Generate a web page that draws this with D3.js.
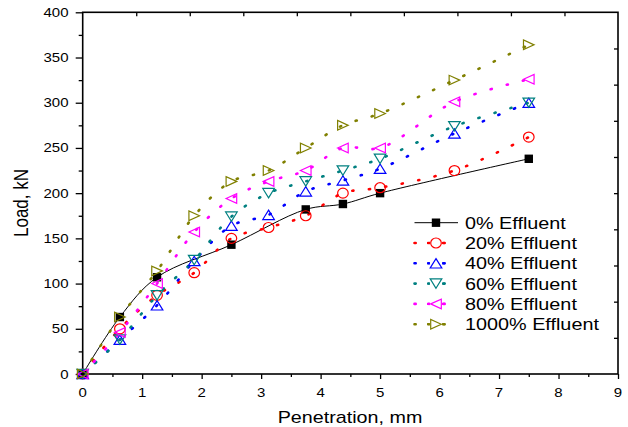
<!DOCTYPE html>
<html>
<head>
<meta charset="utf-8">
<script src="https://cdn.jsdelivr.net/npm/d3@7"></script>
<style>
  body { margin: 0; background: #fff; }
  text { font-family: Arial, "Liberation Sans", sans-serif; fill: #000; }
</style>
</head>
<body>
<div id="chart"></div>
<script>
// ---- data ----
var penetration = [0, 0.625, 1.25, 1.875, 2.5, 3.125, 3.75, 4.375, 5, 6.25, 7.5];
var penetration0 = [0, 0.625, 1.25, 2.5, 3.75, 4.375, 5, 7.5];

var load0 = [0, 63, 107, 143, 182, 188, 200, 238];
var load20 = [0, 50, 87, 112, 150, 162, 175, 200, 206, 225, 262];
var load40 = [0, 38, 76, 125, 164, 176, 202, 214, 227, 266, 300];
var load60 = [0, 38, 87, 126, 174, 200, 213, 225, 238, 274, 300];
var load80 = [0, 46, 100, 157, 194, 213, 225, 250, 250, 301, 326];
var load1000 = [0, 63, 114, 175, 213, 225, 250, 275, 288, 325, 364];

var seriesNames = ["0% Effluent", "20% Effluent", "40% Effluent", "60% Effluent", "80% Effluent", "1000% Effluent"];

var xTicks = [0, 1, 2, 3, 4, 5, 6, 7, 8, 9];
var xMinorTicks = [0.5, 1.5, 2.5, 3.5, 4.5, 5.5, 6.5, 7.5, 8.5];
var yTicks = [0, 50, 100, 150, 200, 250, 300, 350, 400];
var yMinorTicks = [25, 75, 125, 175, 225, 275, 325, 375];
var frameTicks = [1, 2, 3, 4, 5, 6, 7, 8, 9];

// ---- layout ----
var width = 628, height = 427;
var plotLeft = 82.7, plotRight = 618, plotTop = 12.3, plotBottom = 374;
var stretch = 1.2;   // the picture is a bit wider than tall

var series = [
    { name: seriesNames[0], xs: penetration0, ys: load0, color: "#000000", marker: "square", solid: true },
    { name: seriesNames[1], xs: penetration, ys: load20, color: "#ff0000", marker: "circle" },
    { name: seriesNames[2], xs: penetration, ys: load40, color: "#0000ff", marker: "up" },
    { name: seriesNames[3], xs: penetration, ys: load60, color: "#008080", marker: "down" },
    { name: seriesNames[4], xs: penetration, ys: load80, color: "#ff00ff", marker: "left" },
    { name: seriesNames[5], xs: penetration, ys: load1000, color: "#808000", marker: "right" }
];

var x = d3.scaleLinear().domain([0, 9]).range([plotLeft, plotRight]);
var y = d3.scaleLinear().domain([0, 400]).range([plotBottom, plotTop]);
var fx = d3.scaleLinear().domain([0, 10]).range([plotLeft, plotRight]);
var fy = d3.scaleLinear().domain([0, 10]).range([plotBottom, plotTop]);

var svg = d3.select("#chart").append("svg")
    .attr("width", width).attr("height", height)
    .attr("viewBox", `0 0 ${width} ${height}`);

// ---- axes ----
function styleAxis(g) {
    g.select(".domain").remove();
    g.selectAll("line").attr("stroke", "#000").attr("stroke-width", 1.3);
}

svg.append("g").attr("transform", `translate(0,${plotBottom})`)
    .call(d3.axisBottom(x).tickValues(xTicks).tickSize(5).tickFormat(""))
    .call(styleAxis);
svg.append("g").attr("transform", `translate(0,${plotBottom})`)
    .call(d3.axisBottom(x).tickValues(xMinorTicks).tickSize(3).tickFormat(""))
    .call(styleAxis);
svg.append("g").attr("transform", `translate(${plotLeft},0)`)
    .call(d3.axisLeft(y).tickValues(yTicks).tickSize(7).tickFormat(""))
    .call(styleAxis);
svg.append("g").attr("transform", `translate(${plotLeft},0)`)
    .call(d3.axisLeft(y).tickValues(yMinorTicks).tickSize(4).tickFormat(""))
    .call(styleAxis);
// inward ticks on top and right
svg.append("g").attr("transform", `translate(0,${plotTop})`)
    .call(d3.axisTop(fx).tickValues(frameTicks).tickSize(-4).tickFormat(""))
    .call(styleAxis);
svg.append("g").attr("transform", `translate(${plotRight},0)`)
    .call(d3.axisRight(fy).tickValues(frameTicks).tickSize(-4).tickFormat(""))
    .call(styleAxis);

// frame
svg.append("rect")
    .attr("x", plotLeft).attr("y", plotTop)
    .attr("width", plotRight - plotLeft).attr("height", plotBottom - plotTop)
    .attr("fill", "none").attr("stroke", "#000").attr("stroke-width", 1.6);

// tick labels
svg.append("g").selectAll("text")
    .data(xTicks).enter()
    .append("text")
    .attr("transform", d => `translate(${x(d)},397) scale(${stretch},1)`)
    .attr("text-anchor", "middle")
    .style("font-size", "12.5px")
    .text(d => d);

svg.append("g").selectAll("text")
    .data(yTicks).enter()
    .append("text")
    .attr("transform", d => `translate(68.5,${y(d)}) scale(${stretch},1)`)
    .attr("text-anchor", "end")
    .attr("dy", "0.36em")
    .style("font-size", "12.5px")
    .text(d => d);

// axis titles
svg.append("text")
    .attr("transform", `translate(350,423) scale(1.16,1)`)
    .attr("text-anchor", "middle")
    .style("font-size", "17px")
    .text("Penetration, mm");

svg.append("text")
    .attr("transform", `translate(28,203) scale(1.16,1) rotate(-90)`)
    .attr("text-anchor", "middle")
    .style("font-size", "17px")
    .text("Load, kN");

// ---- markers ----
function drawMarker(g, type, color) {
    if (type === "square") {
        g.append("rect").attr("x", -4.2).attr("y", -4.2).attr("width", 8.4).attr("height", 8.4)
            .attr("fill", color);
    } else if (type === "circle") {
        g.append("ellipse").attr("rx", 5.3).attr("ry", 5)
            .attr("fill", "none").attr("stroke", color).attr("stroke-width", 1.2);
    } else {
        var pts;
        if (type === "up") pts = [[0, -4.7], [5.8, 4.7], [-5.8, 4.7]];
        if (type === "down") pts = [[0, 4.7], [5.8, -4.7], [-5.8, -4.7]];
        if (type === "left") pts = [[-5.3, 0], [5.3, -4.8], [5.3, 4.8]];
        if (type === "right") pts = [[5.3, 0], [-5.3, -4.8], [-5.3, 4.8]];
        g.append("path").attr("d", "M" + pts.join("L") + "Z")
            .attr("fill", "none").attr("stroke", color).attr("stroke-width", 1.2)
            .attr("stroke-linejoin", "miter");
    }
}

var line = d3.line()
    .x(d => x(d[0]))
    .y(d => y(d[1]))
    .curve(d3.curveCatmullRom.alpha(0.5));

function styleLine(sel, s) {
    sel.attr("fill", "none").attr("stroke", s.color);
    if (s.solid) {
        sel.attr("stroke-width", 1);
    } else {
        sel.attr("stroke-width", 2.6)
           .attr("stroke-linecap", "round")
           .attr("stroke-dasharray", "1.2 15.5");
    }
}

// lines
series.forEach(function(s) {
    var pts = s.xs.map((v, i) => [v, s.ys[i]]);
    svg.append("path").datum(pts)
        .attr("d", line)
        .call(styleLine, s);
});

// symbols
series.forEach(function(s) {
    var pts = s.xs.map((v, i) => [v, s.ys[i]]);
    svg.append("g").selectAll("g")
        .data(pts).enter()
        .append("g")
        .attr("transform", d => `translate(${x(d[0])},${y(d[1])})`)
        .each(function() { drawMarker(d3.select(this), s.marker, s.color); });
});

// ---- legend ----
var legend = svg.append("g");
series.forEach(function(s, i) {
    var ry = 222.7 + i * 20.3;
    var row = legend.append("g").attr("transform", `translate(0,${ry})`);
    row.append("line")
        .attr("x1", 414.5).attr("x2", 458).attr("y1", 0).attr("y2", 0)
        .call(styleLine, s)
        .attr("stroke-dasharray", s.solid ? null : "1.2 13.3");
    var m = row.append("g").attr("transform", "translate(436,0)");
    if (!s.solid) {
        m.append("rect").attr("x", -6.5).attr("y", -6).attr("width", 13).attr("height", 12).attr("fill", "#fff");
        m.append("line").attr("x1", -9).attr("x2", 9).attr("stroke", s.color).attr("stroke-width", 2.2);
        m.append("rect").attr("x", -6).attr("y", -6).attr("width", 12).attr("height", 12).attr("fill", "#fff");
    }
    drawMarker(m, s.marker, s.color);
    row.append("text")
        .attr("transform", `translate(465,0) scale(${stretch},1)`)
        .attr("dy", "0.36em")
        .style("font-size", "16.5px")
        .text(s.name);
});
</script>
</body>
</html>
